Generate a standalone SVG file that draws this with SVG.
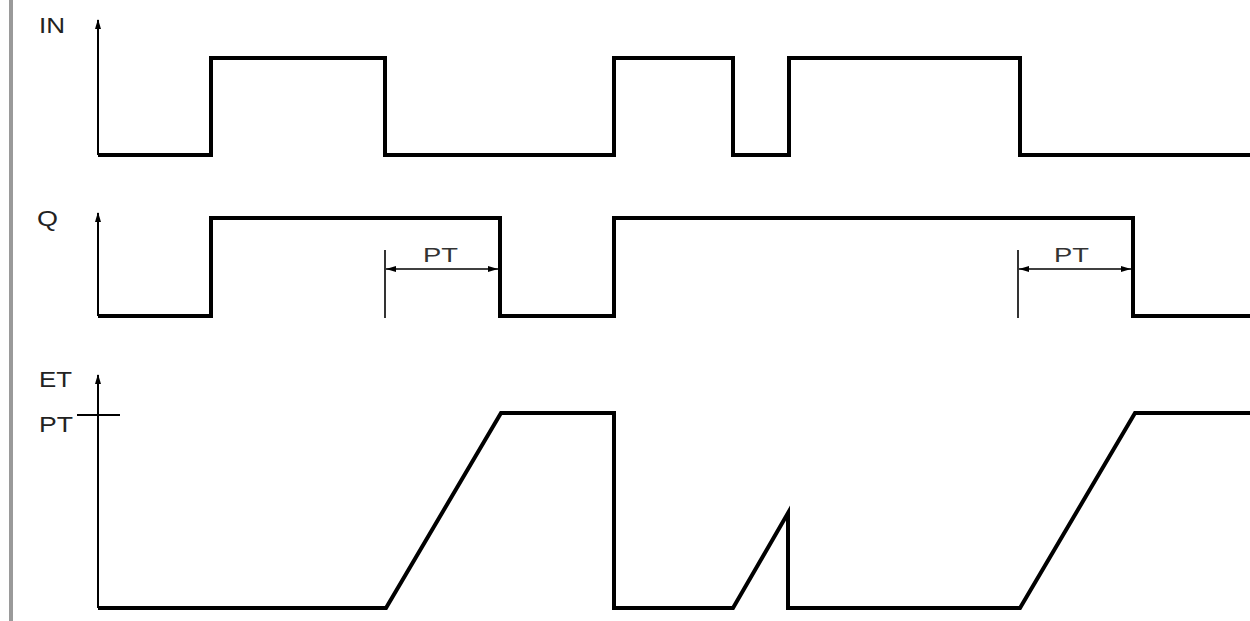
<svg xmlns="http://www.w3.org/2000/svg" width="1250" height="621" viewBox="0 0 1250 621">
<style>
.sig{fill:none;stroke:#000;stroke-width:4;stroke-linejoin:miter}
.ax{fill:none;stroke:#000;stroke-width:2}
.dim{fill:none;stroke:#000;stroke-width:1.6}
.lbl{font-family:"Liberation Sans",Arial,sans-serif;font-size:22px;fill:#222}
.pt{font-family:"Liberation Sans",Arial,sans-serif;font-size:21px;fill:#333}
</style>
<defs>
<marker id="ah" markerWidth="10" markerHeight="7" refX="10" refY="3.5" orient="auto-start-reverse" markerUnits="userSpaceOnUse">
<path d="M0,0.5 L10,3.5 L0,6.5 Z" fill="#000"/>
</marker>
</defs>
<rect x="0" y="0" width="1250" height="621" fill="#fff"/>
<rect x="9" y="0" width="4" height="621" fill="#9a9a9a"/>

<g id="axis-in">
<line class="ax" x1="98" y1="20" x2="98" y2="155"/>
<path d="M98,19 L101,29 L95,29 Z" fill="#000"/>
<text class="lbl" x="39" y="33" textLength="26" lengthAdjust="spacingAndGlyphs">IN</text>
</g>
<g id="axis-q">
<line class="ax" x1="98" y1="213" x2="98" y2="316"/>
<path d="M98,212 L101,222 L95,222 Z" fill="#000"/>
<text class="lbl" x="37" y="226" textLength="21" lengthAdjust="spacingAndGlyphs">Q</text>
</g>
<g id="axis-et">
<line class="ax" x1="98" y1="375" x2="98" y2="608"/>
<path d="M98,374 L101,384 L95,384 Z" fill="#000"/>
<line class="ax" x1="77" y1="415" x2="120" y2="415" stroke-width="1.6"/>
<text class="lbl" x="39" y="387" textLength="33" lengthAdjust="spacingAndGlyphs">ET</text>
<text class="lbl" x="39" y="432" textLength="34" lengthAdjust="spacingAndGlyphs">PT</text>
</g>

<g id="signal-in">
<path class="sig" d="M98,155 H211 V58 H385 V155 H614 V58 H733 V155 H789 V58 H1020 V155 H1250"/>
</g>
<g id="signal-q">
<path class="sig" d="M98,316 H211 V218 H500 V316 H614 V218 H1133 V316 H1250"/>
</g>
<g id="signal-et">
<path class="sig" d="M98,608 H386 L501,413 H614 V608 H733 L788,513 V608 H1020 L1135,413 H1250"/>
</g>

<g id="connectors">
<line class="dim" x1="385" y1="250" x2="385" y2="318"/>
<line class="dim" x1="386" y1="269" x2="498" y2="269" marker-start="url(#ah)" marker-end="url(#ah)"/>
<line class="dim" x1="1018" y1="250" x2="1018" y2="318"/>
<line class="dim" x1="1019" y1="269" x2="1131" y2="269" marker-start="url(#ah)" marker-end="url(#ah)"/>
</g>
<g id="pt-labels">
<text class="pt" x="423" y="262" textLength="35" lengthAdjust="spacingAndGlyphs">PT</text>
<text class="pt" x="1054" y="262" textLength="35" lengthAdjust="spacingAndGlyphs">PT</text>
</g>
</svg>
